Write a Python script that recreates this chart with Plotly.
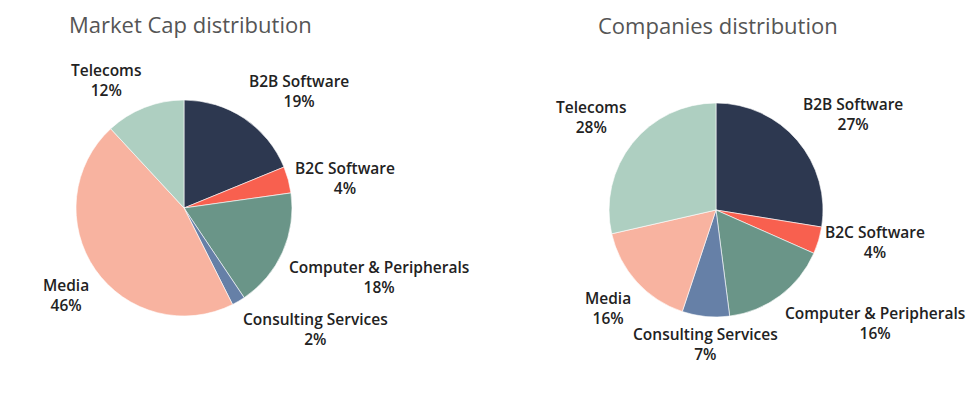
import math
import plotly.graph_objects as go

categories = ["B2B Software", "B2C Software", "Computer & Peripherals",
              "Consulting Services", "Media", "Telecoms"]
market_cap_pct = [19, 4, 18, 2, 46, 12]
companies_pct = [27, 4, 16, 7, 16, 28]
colors = ["#2d3850", "#f8604f", "#6a9588", "#6680a7", "#f8b3a0", "#aecfc1"]
titles = ["Market Cap distribution", "Companies distribution"]

W, H = 977, 394
OFF = 8  # page body margin
LABEL_FONT = dict(family="Open Sans", size=15.5, color="#222222", weight=600)
GAP = 5

fig = go.Figure()


def dom(cx, cy, r):
    cx, cy = cx - OFF, cy - OFF
    return dict(x=[(cx - r) / W, (cx + r) / W],
                y=[(H - cy - r) / H, (H - cy + r) / H])


def add_pie(vals, cx, cy, r, title, tx, ty):
    fig.add_trace(go.Pie(
        labels=categories, values=vals, sort=False, direction="clockwise",
        rotation=0, marker=dict(colors=colors, line=dict(color="white", width=0.6)),
        textinfo="none", domain=dom(cx, cy, r), showlegend=False,
        automargin=False, hoverinfo="label+value",
    ))
    total = sum(vals)
    cum = 0
    for cat, v in zip(categories, vals):
        mid = (cum + v / 2) / total * 2 * math.pi
        cum += v
        ux, uy = math.sin(mid), -math.cos(mid)
        ax = cx + (r + GAP) * ux
        ay = cy + (r + GAP) * uy
        xa = "left" if ux > 0.2 else ("right" if ux < -0.2 else "center")
        ya = "bottom" if uy < -0.3 else ("top" if uy > 0.3 else "middle")
        fig.add_annotation(text=f"{cat}<br>{v}%", x=(ax - OFF) / W,
                           y=1 - (ay - OFF) / H, xref="paper", yref="paper",
                           showarrow=False, xanchor=xa, yanchor=ya,
                           align="center", font=LABEL_FONT)
    fig.add_annotation(text=title, x=(tx - OFF) / W, y=1 - (ty - OFF) / H,
                       xref="paper", yref="paper", showarrow=False,
                       xanchor="center", yanchor="middle",
                       font=dict(family="Open Sans", size=22, color="#555"))


add_pie(market_cap_pct, 184, 208, 108, titles[0], 190, 24)
add_pie(companies_pct, 716, 210, 107, titles[1], 718, 25)

fig.update_layout(width=W, height=H, margin=dict(l=0, r=0, t=0, b=0),
                  paper_bgcolor="white", plot_bgcolor="white")
fig.write_html("out.html")
